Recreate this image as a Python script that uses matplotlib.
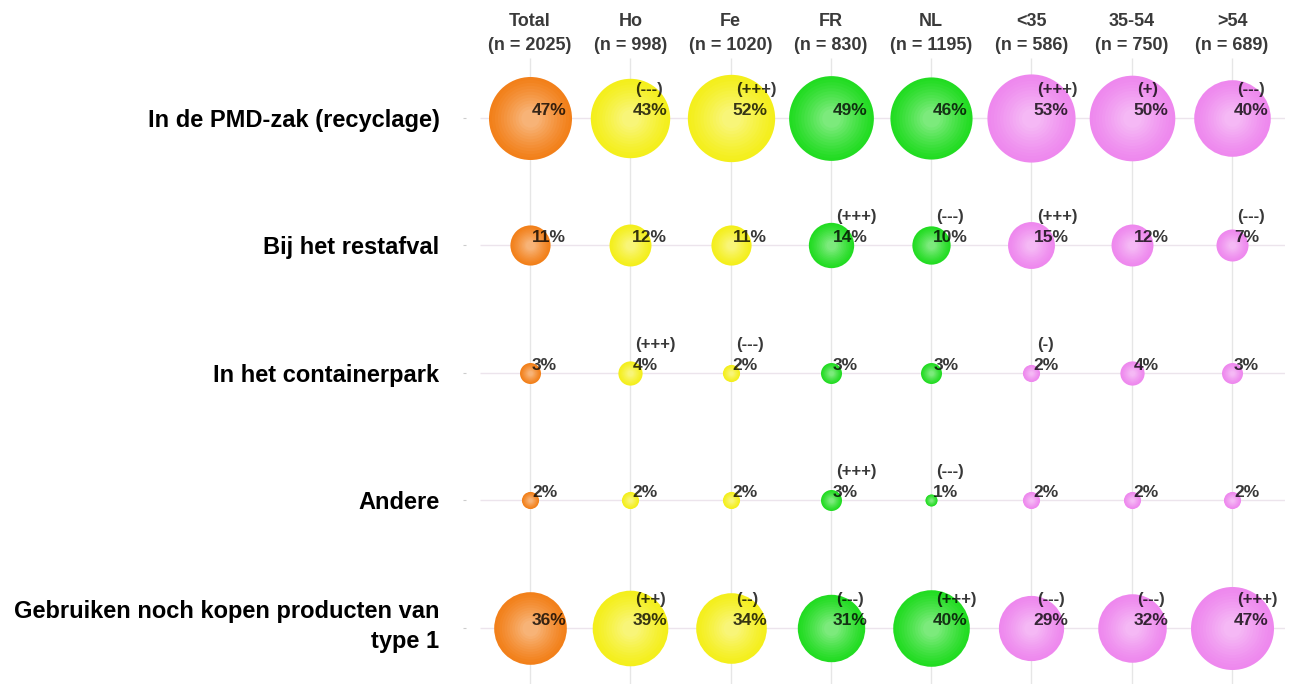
import numpy as np
import matplotlib.pyplot as plt
import matplotlib.transforms as mtransforms
from matplotlib.colors import to_rgb

plt.rcParams['font.family'] = ['Liberation Sans', 'DejaVu Sans']

groups = ['Total', 'Ho', 'Fe', 'FR', 'NL', '<35', '35-54', '>54']
n_resp = [2025, 998, 1020, 830, 1195, 586, 750, 689]
group_colors = ['#f2801a', '#f4ef1c', '#f4ef1c', '#22dc22', '#22dc22',
                '#ee88ee', '#ee88ee', '#ee88ee']

rows = ['In de PMD-zak (recyclage)', 'Bij het restafval', 'In het containerpark',
        'Andere', 'Gebruiken noch kopen producten van\ntype 1']

pmd = [47, 43, 52, 49, 46, 53, 50, 40]
rest = [11, 12, 11, 14, 10, 15, 12, 7]
container = [3, 4, 2, 3, 3, 2, 4, 3]
andere = [2, 2, 2, 3, 1, 2, 2, 2]
geen = [36, 39, 34, 31, 40, 29, 32, 47]
values = [pmd, rest, container, andere, geen]

sig_pmd = ['', '(---)', '(+++)', '', '', '(+++)', '(+)', '(---)']
sig_rest = ['', '', '', '(+++)', '(---)', '(+++)', '', '(---)']
sig_container = ['', '(+++)', '(---)', '', '', '(-)', '', '']
sig_andere = ['', '', '', '(+++)', '(---)', '', '', '']
sig_geen = ['', '(++)', '(--)', '(---)', '(+++)', '(---)', '(---)', '(+++)']
sigs = [sig_pmd, sig_rest, sig_container, sig_andere, sig_geen]

fig = plt.figure(figsize=(12.9, 6.84), dpi=100)
ax = fig.add_axes([466/1290, 0, (1285-466)/1290, 1 - 58/684])

xs = np.arange(len(groups))
ys = np.arange(len(rows))

# grid
ax.hlines(ys, -0.5, 7.53, color='#ece4ec', lw=1, zorder=0)
ax.vlines(xs, -0.47, 4.44, color='#e6e6e6', lw=1, zorder=0)

k = 76  # points^2 per percent
white = np.array([1, 1, 1])
for r, (vals, sg) in enumerate(zip(values, sigs)):
    for c, v in enumerate(vals):
        base = np.array(to_rgb(group_colors[c]))
        nl = 12
        for i in range(nl):
            f = 1 - 0.85 * i / nl
            t = 0.45 * (i / nl) ** 1.2
            col = base * (1 - t) + white * t
            ax.scatter(c, r, s=k * v * f ** 2, color=col, lw=0, zorder=2 + i * 0.01)
        ax.annotate(f'{v}%', (c, r), xytext=(1.5, 5.5), textcoords='offset points',
                    ha='left', va='center', fontsize=12.5, fontweight='bold',
                    color='black', alpha=0.78, zorder=5)
        if sg[c]:
            ax.annotate(sg[c], (c, r), xytext=(3.8, 20.5), textcoords='offset points',
                        ha='left', va='center', fontsize=12, fontweight='bold',
                        color='black', alpha=0.78, zorder=5)

ax.set_xlim(-0.638, 7.528)
ax.set_ylim(4.44, -0.47)

ax.xaxis.tick_top()
ax.set_xticks(xs)
ax.set_xticklabels([f'{g}\n(n = {n})' for g, n in zip(groups, n_resp)],
                   fontsize=13, fontweight='bold', color='#3a3a3a', linespacing=1.55)
ax.tick_params(axis='x', length=0, pad=3)

ax.set_yticks(ys)
ax.set_yticklabels(rows, fontsize=17, fontweight='bold', linespacing=1.35)
ax.tick_params(axis='y', length=2, color='#cccccc', pad=17)

# two-line label sits a bit higher in the original
lab = ax.get_yticklabels()[-1]
lab.set_transform(lab.get_transform() +
                  mtransforms.ScaledTranslation(0, 7/100, fig.dpi_scale_trans))

for s in ax.spines.values():
    s.set_visible(False)

fig.savefig('out.png', dpi=100)
